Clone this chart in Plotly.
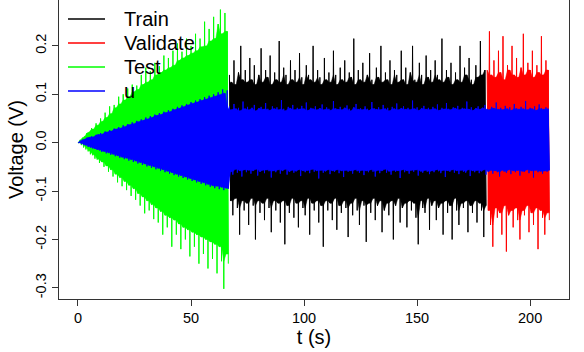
import plotly.graph_objects as go

# ---------------- data ----------------
# Each series is given as per-second upper / lower excursions of the signal.
test_t = list(range(0, 67))
test_hi = [0.0, 0.006, 0.01, 0.013, 0.02, 0.022, 0.03, 0.028, 0.04, 0.036,
           0.05, 0.044, 0.062, 0.052, 0.075, 0.06, 0.078, 0.072, 0.095, 0.08,
           0.1, 0.088, 0.112, 0.095, 0.12, 0.105, 0.118, 0.11, 0.14, 0.12,
           0.155, 0.125, 0.148, 0.13, 0.165, 0.14, 0.158, 0.145, 0.18, 0.15,
           0.175, 0.155, 0.19, 0.16, 0.205, 0.17, 0.188, 0.175, 0.215, 0.18,
           0.2, 0.185, 0.225, 0.19, 0.215, 0.198, 0.25, 0.2, 0.235, 0.21,
           0.26, 0.215, 0.245, 0.275, 0.225, 0.268, 0.23]
test_lo = [0.0, -0.005, -0.01, -0.014, -0.018, -0.024, -0.026, -0.033, -0.035, -0.042,
           -0.04, -0.05, -0.048, -0.06, -0.056, -0.07, -0.065, -0.082, -0.072, -0.09,
           -0.08, -0.098, -0.088, -0.11, -0.095, -0.118, -0.105, -0.13, -0.112, -0.146,
           -0.12, -0.14, -0.128, -0.158, -0.135, -0.165, -0.142, -0.19, -0.15, -0.175,
           -0.155, -0.215, -0.16, -0.19, -0.168, -0.22, -0.175, -0.2, -0.18, -0.235,
           -0.185, -0.215, -0.19, -0.25, -0.195, -0.23, -0.2, -0.26, -0.205, -0.24,
           -0.21, -0.27, -0.215, -0.245, -0.302, -0.23, -0.25]

train_t = list(range(67, 181))
train_hi = [0.14, 0.125, 0.17, 0.12, 0.145, 0.2, 0.13, 0.15, 0.125, 0.175,
            0.13, 0.16, 0.12, 0.14, 0.195, 0.125, 0.15, 0.135, 0.18, 0.12,
            0.145, 0.13, 0.21, 0.125, 0.155, 0.14, 0.12, 0.17, 0.13, 0.15,
            0.125, 0.185, 0.135, 0.12, 0.16, 0.14, 0.13, 0.2, 0.125, 0.15,
            0.135, 0.12, 0.175, 0.13, 0.145, 0.125, 0.19, 0.14, 0.12, 0.155,
            0.13, 0.17, 0.125, 0.145, 0.135, 0.215, 0.12, 0.15, 0.13, 0.165,
            0.125, 0.14, 0.185, 0.13, 0.12, 0.155, 0.135, 0.2, 0.125, 0.145,
            0.13, 0.17, 0.12, 0.15, 0.14, 0.125, 0.19, 0.13, 0.155, 0.12,
            0.145, 0.2, 0.13, 0.125, 0.165, 0.14, 0.12, 0.18, 0.135, 0.15,
            0.125, 0.17, 0.14, 0.13, 0.215, 0.125, 0.15, 0.135, 0.165, 0.12,
            0.145, 0.13, 0.2, 0.125, 0.155, 0.14, 0.175, 0.13, 0.12, 0.16,
            0.135, 0.21, 0.14, 0.15]
train_lo = [-0.12, -0.15, -0.115, -0.135, -0.19, -0.12, -0.14, -0.125, -0.17, -0.115,
            -0.13, -0.2, -0.12, -0.145, -0.125, -0.16, -0.115, -0.135, -0.185, -0.12,
            -0.14, -0.125, -0.165, -0.12, -0.21, -0.13, -0.145, -0.115, -0.155, -0.125,
            -0.175, -0.12, -0.135, -0.15, -0.115, -0.19, -0.125, -0.14, -0.12, -0.165,
            -0.13, -0.215, -0.12, -0.14, -0.125, -0.16, -0.115, -0.18, -0.13, -0.145,
            -0.12, -0.135, -0.195, -0.125, -0.15, -0.115, -0.14, -0.17, -0.12, -0.13,
            -0.205, -0.125, -0.145, -0.115, -0.16, -0.13, -0.12, -0.185, -0.14, -0.125,
            -0.15, -0.12, -0.2, -0.13, -0.115, -0.165, -0.135, -0.125, -0.175, -0.12,
            -0.14, -0.125, -0.155, -0.21, -0.12, -0.135, -0.145, -0.115, -0.18, -0.13,
            -0.12, -0.16, -0.135, -0.125, -0.19, -0.12, -0.145, -0.13, -0.2, -0.115,
            -0.14, -0.17, -0.125, -0.135, -0.12, -0.185, -0.13, -0.145, -0.12, -0.165,
            -0.125, -0.14, -0.195, -0.13]

val_t = list(range(181, 209))
val_hi = [0.15, 0.23, 0.14, 0.17, 0.135, 0.19, 0.145, 0.22, 0.13, 0.16,
          0.15, 0.2, 0.14, 0.175, 0.135, 0.155, 0.225, 0.14, 0.165, 0.15,
          0.19, 0.135, 0.16, 0.145, 0.22, 0.14, 0.17, 0.15]
val_lo = [-0.14, -0.17, -0.215, -0.135, -0.155, -0.145, -0.19, -0.13, -0.225, -0.15,
          -0.14, -0.175, -0.135, -0.16, -0.2, -0.14, -0.15, -0.13, -0.185, -0.145,
          -0.17, -0.135, -0.22, -0.14, -0.155, -0.19, -0.145, -0.16]

u_t = list(range(0, 209))
u_hi = [0, 0.004, 0.006, 0.007, 0.01, 0.011, 0.013, 0.012, 0.016, 0.017,
        0.02, 0.018, 0.023, 0.022, 0.026, 0.024, 0.029, 0.028, 0.032, 0.03,
        0.036, 0.033, 0.038, 0.037, 0.042, 0.039, 0.045, 0.043, 0.048, 0.046,
        0.052, 0.049, 0.055, 0.052, 0.058, 0.056, 0.061, 0.058, 0.064, 0.062,
        0.067, 0.064, 0.07, 0.068, 0.074, 0.071, 0.077, 0.074, 0.08, 0.078,
        0.084, 0.081, 0.087, 0.084, 0.09, 0.087, 0.094, 0.09, 0.097, 0.093,
        0.1, 0.096, 0.104, 0.099, 0.11, 0.102, 0.108,
        0.075, 0.068, 0.08, 0.07, 0.072, 0.066, 0.085, 0.07, 0.074, 0.068,
        0.072, 0.078, 0.066, 0.071, 0.074, 0.069, 0.082, 0.07, 0.067, 0.075,
        0.07, 0.073, 0.068, 0.088, 0.07, 0.066, 0.074, 0.071, 0.078, 0.068,
        0.072, 0.069, 0.076, 0.07, 0.083, 0.067, 0.072, 0.07, 0.075, 0.068,
        0.071, 0.079, 0.068, 0.073, 0.07, 0.067, 0.086, 0.071, 0.069, 0.074,
        0.068, 0.072, 0.077, 0.07, 0.066, 0.073, 0.08, 0.069, 0.071, 0.068,
        0.075, 0.07, 0.067, 0.084, 0.071, 0.069, 0.073, 0.068, 0.078, 0.07,
        0.072, 0.066, 0.074, 0.07, 0.081, 0.068, 0.071, 0.075, 0.069, 0.072,
        0.068, 0.087, 0.07, 0.073, 0.067, 0.071, 0.076, 0.069, 0.072, 0.068,
        0.074, 0.07, 0.079, 0.067, 0.072, 0.069, 0.082, 0.07, 0.068, 0.073,
        0.071, 0.076, 0.068, 0.072, 0.07, 0.085, 0.069, 0.073, 0.067, 0.071,
        0.075, 0.069, 0.072, 0.078, 0.07, 0.068, 0.074, 0.071, 0.083, 0.069,
        0.072, 0.068, 0.076, 0.07, 0.073, 0.067, 0.08, 0.071, 0.069, 0.074,
        0.07, 0.086, 0.068, 0.072, 0.07, 0.075, 0.067, 0.079, 0.071, 0.069,
        0.073, 0.07]
u_lo = [0, -0.003, -0.005, -0.006, -0.009, -0.01, -0.012, -0.013, -0.015, -0.016,
        -0.019, -0.018, -0.022, -0.021, -0.025, -0.024, -0.028, -0.027, -0.031, -0.03,
        -0.034, -0.032, -0.037, -0.035, -0.04, -0.038, -0.043, -0.041, -0.046, -0.044,
        -0.049, -0.047, -0.052, -0.05, -0.055, -0.053, -0.058, -0.056, -0.061, -0.059,
        -0.064, -0.062, -0.067, -0.065, -0.07, -0.068, -0.073, -0.071, -0.076, -0.074,
        -0.079, -0.077, -0.082, -0.08, -0.085, -0.083, -0.088, -0.086, -0.091, -0.089,
        -0.094, -0.09, -0.096, -0.092, -0.098, -0.094, -0.095,
        -0.06, -0.066, -0.055, -0.062, -0.058, -0.07, -0.056, -0.061, -0.057, -0.064,
        -0.058, -0.055, -0.068, -0.06, -0.057, -0.063, -0.056, -0.059, -0.072, -0.058,
        -0.061, -0.056, -0.064, -0.058, -0.055, -0.066, -0.06, -0.057, -0.062, -0.059,
        -0.056, -0.069, -0.058, -0.061, -0.057, -0.063, -0.055, -0.06, -0.058, -0.074,
        -0.057, -0.062, -0.059, -0.056, -0.065, -0.058, -0.06, -0.056, -0.063, -0.058,
        -0.071, -0.057, -0.06, -0.058, -0.064, -0.056, -0.059, -0.062, -0.057, -0.067,
        -0.058, -0.061, -0.056, -0.06, -0.07, -0.057, -0.063, -0.058, -0.055, -0.062,
        -0.059, -0.066, -0.057, -0.06, -0.058, -0.073, -0.056, -0.061, -0.058, -0.064,
        -0.057, -0.06, -0.056, -0.068, -0.059, -0.062, -0.057, -0.06, -0.065, -0.058,
        -0.061, -0.056, -0.059, -0.063, -0.057, -0.071, -0.058, -0.06, -0.056, -0.062,
        -0.058, -0.065, -0.057, -0.06, -0.062, -0.056, -0.069, -0.058, -0.061, -0.057,
        -0.063, -0.059, -0.056, -0.066, -0.06, -0.057, -0.064, -0.058, -0.061, -0.07,
        -0.057, -0.06, -0.062, -0.056, -0.065, -0.058, -0.061, -0.057, -0.068, -0.059,
        -0.06, -0.056, -0.063, -0.058, -0.072, -0.057, -0.061, -0.059, -0.064, -0.058,
        -0.06, -0.057]

series_names = ["Train", "Validate", "Test", "u"]
series_colors = ["#000000", "#FF0000", "#00FF00", "#0000FF"]

x_ticks = [0, 50, 100, 150, 200]
y_ticks = [-0.3, -0.2, -0.1, 0.0, 0.1, 0.2]
y_ticklabels = ["-0.3", "-0.2", "-0.1", "0.0", "0.1", "0.2"]


def zigzag(t, hi, lo):
    """Alternate between each second's upper and lower excursion."""
    assert len(t) == len(hi) == len(lo), (len(t), len(hi), len(lo))
    xs, ys = [], []
    for ti, h, l in zip(t, hi, lo):
        xs += [ti, ti + 0.5]
        ys += [h, l]
    return xs, ys


def core_band(t, hi, lo):
    """Solid inner band: smaller excursion of each pair of neighbouring seconds."""
    n = len(t)
    up = [min(hi[i:i + 2]) for i in range(n)]
    dn = [max(lo[max(0, i - 1):i + 1]) for i in range(n)]
    xs = [ti for ti in t] + [ti + 0.5 for ti in reversed(t)]
    ys = up + list(reversed(dn))
    return xs, ys


data = {
    "Train": (train_t, train_hi, train_lo),
    "Validate": (val_t, val_hi, val_lo),
    "Test": (test_t, test_hi, test_lo),
    "u": (u_t, u_hi, u_lo),
}

fig = go.Figure()
for name, col in zip(series_names, series_colors):
    bx, by = core_band(*data[name])
    fig.add_trace(go.Scatter(x=bx, y=by, mode="lines", fill="toself",
                             fillcolor=col, line=dict(color=col, width=0.5),
                             showlegend=False, hoverinfo="skip"))
    xs, ys = zigzag(*data[name])
    fig.add_trace(go.Scatter(x=xs, y=ys, mode="lines", name=name,
                             line=dict(color=col, width=1, simplify=False),
                             showlegend=False, hoverinfo="skip"))

# ---------------- layout ----------------
W, H = 584, 352
L, R, T, B = 59, 15, 0, 53
pw, ph = W - L - R, H - T - B


def px_x(px):
    return (px - L) / pw


def px_y(py):
    return (H - B - py) / ph


shapes, annots = [], []
leg_y = [19, 43, 67, 91]
for name, col, yy in zip(series_names, series_colors, leg_y):
    shapes.append(dict(type="line", xref="paper", yref="paper",
                       x0=px_x(68), x1=px_x(105), y0=px_y(yy), y1=px_y(yy),
                       line=dict(color=col, width=1.3)))
    annots.append(dict(text=name, xref="paper", yref="paper", x=px_x(122), y=px_y(yy),
                       xanchor="left", yanchor="middle", showarrow=False,
                       font=dict(size=20, color="black")))

fig.update_layout(
    width=W, height=H,
    margin=dict(l=L, r=R, t=T, b=B),
    paper_bgcolor="white", plot_bgcolor="white",
    font=dict(family="Liberation Sans, Arial, sans-serif", color="black"),
    shapes=shapes, annotations=annots,
    showlegend=False,
)
fig.update_xaxes(range=[-8.4, 217.2], tickvals=x_ticks, ticks="outside", ticklen=6,
                 tickcolor="#333", showline=True, linecolor="#333", linewidth=1,
                 mirror=False, showgrid=False, zeroline=False,
                 tickfont=dict(size=14.5),
                 title=dict(text="t (s)", font=dict(size=20), standoff=4))
fig.update_yaxes(range=[-0.323, 0.2948], tickvals=y_ticks, ticktext=y_ticklabels,
                 ticks="outside", ticklen=6, tickcolor="#333", tickangle=-90,
                 showline=True, linecolor="#333", linewidth=1, mirror=True,
                 showgrid=False, zeroline=False, tickfont=dict(size=14.5),
                 title=dict(text="Voltage (V)", font=dict(size=20), standoff=4))

fig.write_html("out.html")
